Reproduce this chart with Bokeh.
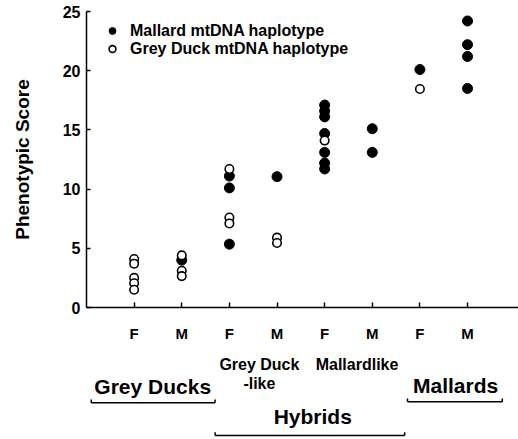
from bokeh.plotting import figure
from bokeh.layouts import column
from bokeh.models import Range1d, FixedTicker, Legend, LegendItem
from bokeh.embed import file_html
from bokeh.resources import INLINE

# ---- data ----
positions = [1, 2, 3, 4, 5, 6, 7, 8]
sex_labels = ["F", "M", "F", "M", "F", "M", "F", "M"]

# Mallard mtDNA haplotype (filled)
mallard_pos = [2, 3, 3, 3, 4, 5, 5, 5, 5, 5, 5, 5, 6, 6, 7, 8, 8, 8, 8]
mallard_score = [4.0, 11.1, 10.1, 5.35, 11.05, 17.1, 16.6, 16.1, 14.7, 13.1, 12.2, 11.7,
                 15.1, 13.1, 20.1, 24.2, 22.2, 21.2, 18.5]

# Grey Duck mtDNA haplotype (open)
grey_pos = [1, 1, 1, 1, 1, 2, 2, 2, 3, 3, 3, 4, 4, 5, 7]
grey_score = [4.1, 3.7, 2.5, 2.05, 1.5, 4.4, 3.1, 2.65, 11.7, 7.6, 7.1, 5.9, 5.45, 14.1, 18.45]

subgroup_labels = ["Grey Duck\n-like", "Mallardlike"]
subgroup_x = [3.63, 5.68]
subgroup_y = [-4.10, -4.10]
group_labels = ["Grey Ducks", "Hybrids", "Mallards"]
group_x = [1.39, 4.75, 7.75]
group_y = [-6.67, -9.21, -6.62]
line_start = [0.1, 2.7, 6.74]
line_end = [2.7, 6.68, 8.73]
line_y = [-8.05, -10.81, -7.97]
end_tick = 0.28

FONT = "Liberation Sans"

p = figure(width=518, height=345, output_backend="svg", toolbar_location=None,
           x_range=Range1d(0, 9.07), y_range=Range1d(0, 25),
           min_border_left=86, min_border_right=0, min_border_top=11, min_border_bottom=38)
p.outline_line_color = None
p.grid.grid_line_color = None

# y axis
ya = p.yaxis[0]
ya.ticker = FixedTicker(ticks=[0, 5, 10, 15, 20, 25])
ya.axis_label = "Phenotypic Score"
ya.axis_label_text_font = FONT
ya.axis_label_text_font_style = "bold"
ya.axis_label_text_font_size = "19px"
ya.axis_label_text_color = "black"
ya.axis_label_standoff = 27
ya.major_label_text_font = FONT
ya.major_label_text_font_style = "bold"
ya.major_label_text_font_size = "16px"
ya.major_label_text_color = "black"
ya.major_label_standoff = 6
ya.major_tick_in = 4
ya.major_tick_out = 0
ya.minor_tick_line_color = None
ya.axis_line_width = 1.5
ya.major_tick_line_width = 1.5

# x axis
xa = p.xaxis[0]
xa.ticker = FixedTicker(ticks=positions)
xa.major_label_overrides = {pos: lab for pos, lab in zip(positions, sex_labels)}
xa.major_label_text_font = FONT
xa.major_label_text_font_style = "bold"
xa.major_label_text_font_size = "15px"
xa.major_label_text_color = "black"
xa.major_label_standoff = 17
xa.major_tick_in = 5
xa.major_tick_out = 0
xa.minor_tick_line_color = None
xa.axis_line_width = 1.5
xa.major_tick_line_width = 1.5

r_m = p.scatter(mallard_pos, mallard_score, marker="circle", size=10,
                fill_color="black", line_color="black", line_width=1)
r_g = p.scatter(grey_pos, grey_score, marker="circle", size=8.5,
                fill_color="white", line_color="black", line_width=1.6)

legend = Legend(items=[LegendItem(label="Mallard mtDNA haplotype", renderers=[r_m]),
                       LegendItem(label="Grey Duck mtDNA haplotype", renderers=[r_g])],
                location=(16, 249.5), margin=0, padding=0, spacing=0,
                glyph_width=20, glyph_height=17, label_height=17, label_standoff=8,
                label_text_font=FONT, label_text_font_style="bold",
                label_text_font_size="16px", label_text_color="black",
                border_line_color=None, background_fill_alpha=0)
p.add_layout(legend, "center")

# ---- lower panel with group labels (same x scale, same y units) ----
p2 = figure(width=518, height=94, output_backend="svg", toolbar_location=None,
            x_range=p.x_range, y_range=Range1d(-11.15, -3.21),
            x_axis_location=None, y_axis_location=None,
            min_border_left=86, min_border_right=0, min_border_top=0, min_border_bottom=0)
p2.outline_line_color = None
p2.grid.grid_line_color = None

p2.text(subgroup_x, subgroup_y, text=subgroup_labels, text_align="center",
        text_baseline="top", text_font={"value": FONT}, text_font_style="bold",
        text_font_size="16px", text_line_height=1.12, text_color="black")
p2.text(group_x, group_y, text=group_labels, text_align="center",
        text_baseline="middle", text_font={"value": FONT}, text_font_style="bold",
        text_font_size="21px", text_color="black")
p2.segment(line_start, line_y, line_end, line_y, line_color="black", line_width=1.5)
tick_x = line_start + line_end
tick_y = line_y + line_y
p2.segment(tick_x, tick_y, tick_x, [y + end_tick for y in tick_y],
           line_color="black", line_width=1.5)

layout = column(p, p2, spacing=0)
open("out.html", "w").write(file_html(layout, INLINE))
